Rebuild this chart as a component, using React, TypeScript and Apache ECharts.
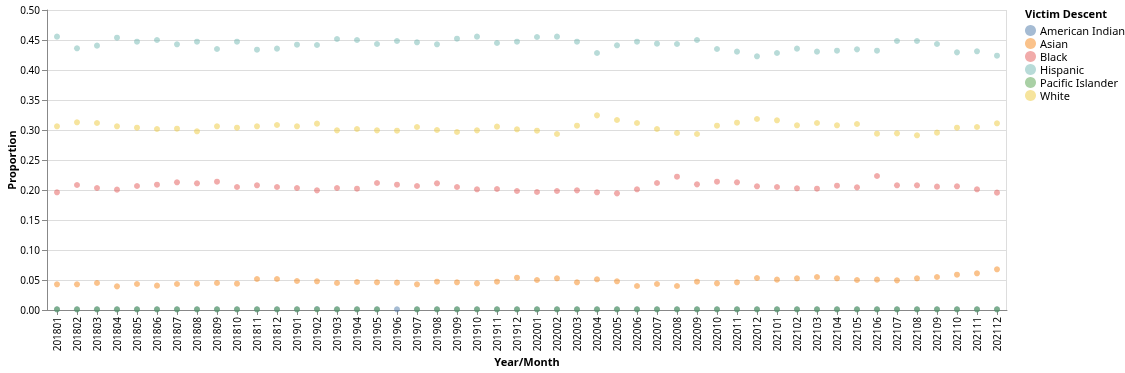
import React, { useEffect, useRef } from "react";
import * as echarts from "echarts";

const months: string[] = [
  "201801","201802","201803","201804","201805","201806","201807","201808","201809","201810","201811","201812",
  "201901","201902","201903","201904","201905","201906","201907","201908","201909","201910","201911","201912",
  "202001","202002","202003","202004","202005","202006","202007","202008","202009","202010","202011","202012",
  "202101","202102","202103","202104","202105","202106","202107","202108","202109","202110","202111","202112",
];

const yTicks: number[] = [0, 0.05, 0.1, 0.15, 0.2, 0.25, 0.3, 0.35, 0.4, 0.45, 0.5];

const americanIndian: (number | null)[] = [
  0.001,0.001,0.001,0.001,0.001,0.001,0.001,0.001,0.001,0.001,0.001,0.001,
  0.001,0.0015,0.001,0.001,0.001,0.0012,0.001,0.001,0.001,0.0012,0.001,0.001,
  0.001,0.001,0.001,0.001,0.001,0.001,0.001,0.001,0.001,0.001,0.001,0.001,
  0.001,0.001,0.001,0.001,0.001,0.001,0.001,0.001,0.0012,0.001,0.001,0.001,
];

const asian: number[] = [
  0.0428,0.0428,0.045,0.0394,0.0433,0.0406,0.0433,0.0439,0.045,0.0439,0.0517,0.0517,
  0.0483,0.0478,0.045,0.0467,0.0461,0.0456,0.0428,0.0472,0.0461,0.0444,0.0472,0.0539,
  0.05,0.0528,0.0461,0.0511,0.0478,0.04,0.0433,0.04,0.0472,0.0444,0.0461,0.0533,
  0.0506,0.0528,0.055,0.0528,0.05,0.0506,0.0494,0.0528,0.055,0.0589,0.0611,0.0678,
];

const black: number[] = [
  0.1961,0.2083,0.2033,0.2006,0.2067,0.2089,0.2128,0.2111,0.2139,0.205,0.2078,0.205,
  0.2033,0.1994,0.2033,0.2022,0.2117,0.2089,0.2067,0.2111,0.205,0.2011,0.2017,0.1983,
  0.1967,0.1983,0.1994,0.1961,0.1944,0.2011,0.2117,0.2222,0.2094,0.2139,0.2128,0.2061,
  0.205,0.2028,0.2022,0.2072,0.2044,0.2233,0.2078,0.2078,0.2056,0.2061,0.2011,0.1956,
];

const hispanic: number[] = [
  0.4556,0.4361,0.4406,0.4539,0.4472,0.45,0.4428,0.4472,0.435,0.4472,0.4339,0.4356,
  0.4422,0.4417,0.4517,0.45,0.4433,0.4483,0.4461,0.4428,0.4522,0.4556,0.445,0.4472,
  0.455,0.4556,0.4472,0.4283,0.4411,0.4472,0.4439,0.4433,0.45,0.435,0.4306,0.4228,
  0.4283,0.4356,0.4306,0.4322,0.4344,0.4322,0.4483,0.4483,0.4433,0.4294,0.4311,0.4239,
];

const pacificIslander: (number | null)[] = [
  0.0012,0.0012,0.0012,0.0012,0.0012,0.0012,0.0012,0.0012,0.0012,0.0012,0.0012,0.0012,
  0.0012,0.0012,0.0012,0.0012,0.0012,null,0.0012,0.0012,0.0012,0.0012,0.0012,0.0012,
  0.0012,0.0012,0.0012,0.0012,0.0012,0.0012,0.0012,0.0012,0.0012,0.0012,0.0012,0.0012,
  0.0012,0.0012,0.0012,0.0012,0.0012,0.0012,0.0012,0.0012,0.0012,0.0012,0.0012,0.0012,
];

const white: number[] = [
  0.3061,0.3128,0.3117,0.3061,0.3039,0.3017,0.3022,0.2978,0.3061,0.3039,0.3061,0.3083,
  0.3061,0.3106,0.2994,0.3017,0.2994,0.2989,0.305,0.3,0.2967,0.2994,0.3056,0.3011,
  0.2989,0.2933,0.3072,0.3244,0.3167,0.3117,0.3017,0.295,0.2933,0.3072,0.3122,0.3183,
  0.3161,0.3078,0.3117,0.3078,0.31,0.2939,0.2944,0.2911,0.2956,0.3039,0.305,0.3111,
];

const seriesNames: string[] = ["American Indian", "Asian", "Black", "Hispanic", "Pacific Islander", "White"];
const seriesColors: string[] = ["#4c78a8", "#f58518", "#e45756", "#72b7b2", "#54a24b", "#eeca3b"];
const seriesData = [americanIndian, asian, black, hispanic, pacificIslander, white];

const FONT = "'Noto Sans', 'Open Sans', sans-serif";

export default function App() {
  const ref = useRef<HTMLDivElement>(null);
  useEffect(() => {
    if (!ref.current) return;
    const chart = echarts.init(ref.current, undefined, { renderer: "svg" });
    chart.setOption({
      animation: false,
      textStyle: { fontFamily: FONT },
      grid: { left: 47, top: 10, width: 960, height: 300, containLabel: false, outerBoundsMode: "none" },
      xAxis: {
        type: "category",
        data: months,
        boundaryGap: true,
        name: "Year/Month",
        nameLocation: "middle",
        nameGap: 46,
        nameMoveOverlap: false,
        nameTextStyle: { fontFamily: FONT, fontSize: 11, fontWeight: "bold", color: "#000" },
        axisLine: { show: true, lineStyle: { color: "#888", width: 1 } },
        axisTick: { show: true, alignWithLabel: true, length: 5, lineStyle: { color: "#888" } },
        axisLabel: { rotate: 90, interval: 0, margin: 7, fontSize: 10, color: "#000", fontFamily: FONT },
        splitLine: { show: false },
      },
      yAxis: {
        type: "value",
        min: 0,
        max: 0.5,
        interval: 0.05,
        name: "Proportion",
        nameLocation: "middle",
        nameGap: 30,
        nameMoveOverlap: false,
        nameTextStyle: { fontFamily: FONT, fontSize: 11, fontWeight: "bold", color: "#000" },
        axisLine: { show: true, lineStyle: { color: "#888", width: 1 } },
        axisTick: { show: true, length: 5, lineStyle: { color: "#888" } },
        axisLabel: {
          margin: 7,
          fontSize: 10,
          color: "#000",
          fontFamily: FONT,
          formatter: (v: number) => {
            const t = yTicks.find((x) => Math.abs(x - v) < 1e-9);
            return (t !== undefined ? t : v).toFixed(2);
          },
        },
        splitLine: { show: true, lineStyle: { color: "#ddd", width: 1 } },
      },
      legend: {
        orient: "vertical",
        left: 1025,
        top: 25,
        icon: "circle",
        itemWidth: 11,
        itemHeight: 11,
        itemGap: 2,
        padding: 0,
        textStyle: { fontSize: 11, color: "#000", fontFamily: FONT, padding: [0, 0, 0, -1] },
        data: seriesNames,
      },
      graphic: [
        {
          type: "text",
          left: 1025,
          top: 8,
          style: { text: "Victim Descent", fontSize: 11, fontWeight: "bold", fill: "#000", fontFamily: FONT },
        },
        {
          type: "line",
          shape: { x1: 1006.5, y1: 10, x2: 1006.5, y2: 310 },
          style: { stroke: "#ddd", lineWidth: 1 },
        },
      ],
      series: seriesNames.map((name, i) => ({
        name,
        type: "scatter",
        data: seriesData[i],
        symbol: "circle",
        symbolSize: 6,
        itemStyle: { color: seriesColors[i], opacity: 0.5 },
        emphasis: { disabled: true },
      })),
    });
    return () => chart.dispose();
  }, []);
  return (
    <div
      ref={ref}
      style={{ position: "fixed", left: 0, top: 0, width: 1125, height: 373 }}
    />
  );
}
